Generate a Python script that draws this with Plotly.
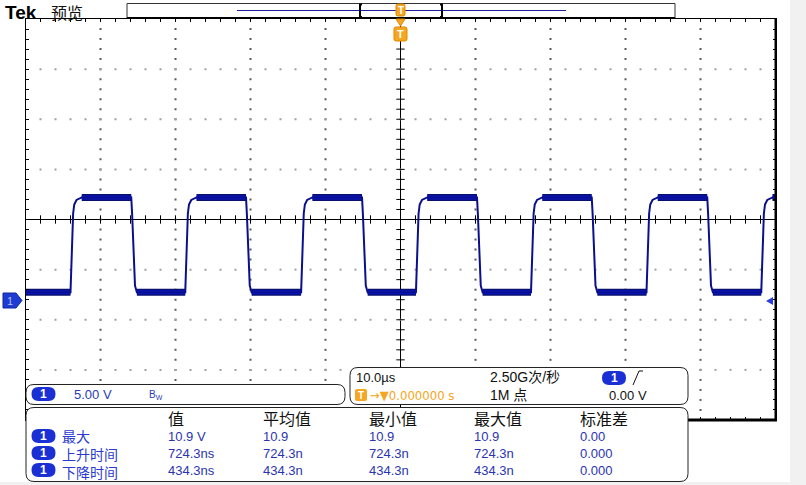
import plotly.graph_objects as go

# ---------------- data ----------------
# time in microseconds (10 us/div, centre = 0), voltage in volts (5 V/div, ground marker 1.6 div below centre)
RISE_US = [-44.0, -28.7, -13.25, 2.06, 17.4, 32.8, 48.1]
FALL_US = [-35.9, -20.6, -5.13, 10.2, 25.5, 40.9]
HIGH_V = 10.2
LOW_V = 0.75
# edge shapes (offset from edge start in us, level in V)
RISE_DT = [0.0, 0.35, 0.5, 0.8, 1.5]
RISE_V = [0.75, 8.6, 9.5, 9.95, 10.2]
FALL_DT = [0.0, 0.12, 0.5, 0.75]
FALL_V = [10.2, 8.5, 1.4, 0.75]

T_MIN, T_MAX = -50.0, 50.0
V_MIN, V_MAX = -12.0, 28.0
V_CENTER = 8.0

MEAS_HEADERS = ["值", "平均值", "最小值", "最大值", "标准差"]
MEAS_LABELS = ["最大", "上升时间", "下降时间"]
MEAS_VALUES = [
    ["10.9 V", "10.9", "10.9", "10.9", "0.00"],
    ["724.3ns", "724.3n", "724.3n", "724.3n", "0.000"],
    ["434.3ns", "434.3n", "434.3n", "434.3n", "0.000"],
]

# ---------------- build the waveform ----------------
events = sorted([(t, "r") for t in RISE_US] + [(t, "f") for t in FALL_US])
wx, wy = [T_MIN], [LOW_V]
flat_x, flat_y = [T_MIN], [LOW_V]
for t, kind in events:
    dts, vs = (RISE_DT, RISE_V) if kind == "r" else (FALL_DT, FALL_V)
    flat_x += [t, None]
    flat_y += [vs[0], None]
    for dt, v in zip(dts, vs):
        wx.append(t + dt)
        wy.append(v)
    flat_x.append(t + dts[-1])
    flat_y.append(vs[-1])
wx.append(T_MAX)
wy.append(wy[-1])
flat_x.append(T_MAX)
flat_y.append(flat_y[-1])

W, H = 806, 485


def px(x):
    return x / W


def py(y):
    return 1 - y / H


def rrect(x0, y0, x1, y1, r):
    P = lambda x, y: f"{px(x):.5f},{py(y):.5f}"
    return (f"M{P(x0 + r, y0)} L{P(x1 - r, y0)} Q{P(x1, y0)} {P(x1, y0 + r)} "
            f"L{P(x1, y1 - r)} Q{P(x1, y1)} {P(x1 - r, y1)} L{P(x0 + r, y1)} "
            f"Q{P(x0, y1)} {P(x0, y1 - r)} L{P(x0, y0 + r)} Q{P(x0, y0)} {P(x0 + r, y0)} Z")


fig = go.Figure()

# grid dots
gx, gy = [], []
for xm in [-40, -30, -20, -10, 10, 20, 30, 40]:
    for k in range(1, 40):
        gx.append(xm)
        gy.append(V_MIN + k)
fig.add_trace(go.Scatter(x=gx, y=gy, mode="markers", hoverinfo="skip",
                         marker=dict(symbol="square", size=2, color="#5a5a5a", line_width=0)))
hx, hy = [], []
for ym in [-7, -2, 3, 13, 18, 23]:
    for k in range(1, 50):
        hx.append(T_MIN + 2 * k)
        hy.append(ym)
fig.add_trace(go.Scatter(x=hx, y=hy, mode="markers", hoverinfo="skip",
                         marker=dict(symbol="square", size=2, color="#a0a0a0", line_width=0)))

# centre crosshair ticks
fig.add_trace(go.Scatter(x=[T_MIN + 2 * k for k in range(1, 50)], y=[V_CENTER] * 49, mode="markers",
                         hoverinfo="skip",
                         marker=dict(symbol="line-ns", size=6, line=dict(width=1, color="black"))))
fig.add_trace(go.Scatter(x=[0] * 39, y=[V_MIN + k for k in range(1, 40)], mode="markers",
                         hoverinfo="skip",
                         marker=dict(symbol="line-ew", size=6, line=dict(width=1, color="black"))))

# waveform: thick noisy band on the flat levels, thin line on the edges
fig.add_trace(go.Scatter(x=flat_x, y=flat_y, mode="lines", hoverinfo="skip",
                         line=dict(color="#08106e", width=7)))
fig.add_trace(go.Scatter(x=flat_x, y=flat_y, mode="lines", hoverinfo="skip",
                         line=dict(color="#0a14c8", width=4)))
fig.add_trace(go.Scatter(x=wx, y=wy, mode="lines", hoverinfo="skip",
                         line=dict(color="#0a0f8c", width=2)))

shapes = []
shapes.append(dict(type="line", xref="x", yref="y", x0=T_MIN, x1=T_MAX, y0=V_CENTER, y1=V_CENTER,
                   line=dict(color="black", width=1), layer="below"))
shapes.append(dict(type="line", xref="x", yref="y", x0=0, x1=0, y0=V_MIN, y1=V_MAX,
                   line=dict(color="black", width=1), layer="below"))
shapes.append(dict(type="line", xref="paper", yref="paper", x0=px(775.5), x1=px(775.5), y0=py(19), y1=py(421),
                   line=dict(color="black", width=2)))
shapes.append(dict(type="line", xref="paper", yref="paper", x0=px(680), x1=px(777), y0=py(420), y1=py(420),
                   line=dict(color="black", width=3)))
shapes.append(dict(type="rect", xref="paper", yref="paper", x0=px(790), x1=1, y0=0, y1=1,
                   fillcolor="#f1f1f1", line_width=0, layer="below"))
shapes.append(dict(type="rect", xref="paper", yref="paper", x0=0, x1=1, y0=0, y1=py(482),
                   fillcolor="#f1f1f1", line_width=0, layer="below"))

# record view box at top
shapes.append(dict(type="rect", xref="paper", yref="paper", x0=px(127), x1=px(675), y0=py(18), y1=py(3.5),
                   fillcolor="white", line=dict(color="#333", width=1)))
shapes.append(dict(type="line", xref="paper", yref="paper", x0=px(127), x1=px(675), y0=py(18), y1=py(18),
                   line=dict(color="black", width=2)))
shapes.append(dict(type="line", xref="paper", yref="paper", x0=px(237), x1=px(566), y0=py(10.5), y1=py(10.5),
                   line=dict(color="#1e1e9e", width=1)))
for bx, d in [(360, 1), (442, -1)]:
    shapes.append(dict(type="path", xref="paper", yref="paper",
                       path=f"M{px(bx + 2 * d)},{py(4.5)} L{px(bx)},{py(4.5)} L{px(bx)},{py(17)} L{px(bx + 2 * d)},{py(17)}",
                       line=dict(color="black", width=2)))
shapes.append(dict(type="path", xref="paper", yref="paper", path=rrect(396, 4, 405, 16, 2),
                   fillcolor="#f5a623", line=dict(color="#e08a00", width=1)))
shapes.append(dict(type="path", xref="paper", yref="paper",
                   path=f"M{px(396)},{py(19)} L{px(405)},{py(19)} L{px(400.5)},{py(26)} Z",
                   fillcolor="#f5a623", line=dict(color="#e08a00", width=1)))
shapes.append(dict(type="path", xref="paper", yref="paper", path=rrect(394, 27, 407, 41, 2),
                   fillcolor="#f5a623", line=dict(color="#e08a00", width=1)))
shapes.append(dict(type="path", xref="paper", yref="paper",
                   path=f"M{px(3)},{py(293)} L{px(16)},{py(293)} L{px(22)},{py(300.5)} L{px(16)},{py(308)} L{px(3)},{py(308)} Z",
                   fillcolor="#1e3cd2", line=dict(color="#1028a0", width=1)))
shapes.append(dict(type="path", xref="paper", yref="paper",
                   path=f"M{px(766)},{py(301)} L{px(773)},{py(297)} L{px(773)},{py(305)} Z",
                   fillcolor="#2a3ce0", line_width=0))

# bottom boxes
shapes.append(dict(type="path", xref="paper", yref="paper", path=rrect(26, 384.5, 345, 404.5, 8),
                   fillcolor="white", line=dict(color="#222", width=1)))
shapes.append(dict(type="path", xref="paper", yref="paper", path=rrect(350, 367.5, 688, 404.5, 8),
                   fillcolor="white", line=dict(color="#222", width=1)))
shapes.append(dict(type="path", xref="paper", yref="paper", path=rrect(26, 407.5, 688, 481.5, 8),
                   fillcolor="white", line=dict(color="#222", width=1)))

PILL = "#1a30d4"
for (cx, cy) in [(43.5, 394), (43.5, 436), (43.5, 453), (43.5, 470), (614, 378)]:
    shapes.append(dict(type="path", xref="paper", yref="paper", path=rrect(cx - 12, cy - 7, cx + 12, cy + 7, 7),
                       fillcolor=PILL, line_width=0))
shapes.append(dict(type="path", xref="paper", yref="paper", path=rrect(355, 389, 367, 401, 2),
                   fillcolor="#f5a623", line_width=0))
# rising-edge trigger slope symbol
shapes.append(dict(type="path", xref="paper", yref="paper",
                   path=f"M{px(633)},{py(385)} L{px(639)},{py(371)} L{px(643)},{py(371)}",
                   line=dict(color="#111", width=1)))

ann = []
FONT = "Liberation Sans, Noto Sans CJK SC"
CJK = "Noto Sans CJK SC, Liberation Sans"


def text(x, y, s, size=13, color="black", family=FONT, anchor="left", align="center"):
    ann.append(dict(x=px(x), y=py(y), xref="paper", yref="paper", text=s, showarrow=False, align=align,
                    xanchor=anchor, yanchor="middle", font=dict(size=size, color=color, family=family)))


text(3, 12, "<b>Tek</b>", 19, "black", "Liberation Sans")
text(49, 12, "预览", 16, "#111", CJK)
text(400.5, 10, "<b>T</b>", 10, "white", FONT, "center")
text(400.5, 34.5, "<b>T</b>", 11, "white", FONT, "center")
text(10, 301, "1", 11, "#b4bcff", FONT, "center")

BLUE_TXT = "#2a3cb4"
text(43.5, 394, "<b>1</b>", 12, "white", FONT, "center")
text(72, 394, "5.00 V", 13, BLUE_TXT)
text(147, 395, "B<sub>W</sub>", 10, BLUE_TXT)

text(354, 377, "10.0µs", 13, "#111")
text(488, 377, "2.50G次/秒", 14, "#111")
text(614, 378, "<b>1</b>", 12, "white", FONT, "center")
text(361, 395, "<b>T</b>", 10, "white", FONT, "center")
text(368, 395, "→▼0.000000 s", 13, "#f5a623", "DejaVu Sans Condensed, Liberation Sans")
text(488, 395, "1M 点", 14, "#111")
text(607, 395, "0.00 V", 13, "#111")

COLS = [166, 261, 367, 472, 578]
for cx, h in zip(COLS, MEAS_HEADERS):
    text(cx, 418, h, 16, "#111", CJK)
ROWS = [436, 453, 470]
VAL_BLUE = "#2b34b0"
# the three row labels as one stacked text block (line pitch matches the row pitch)
text(60, 453.5, "<br>".join(MEAS_LABELS), 14, "#2a3ad0", CJK, "left", "left")
for ry, vals in zip(ROWS, MEAS_VALUES):
    text(43.5, ry, "<b>1</b>", 12, "white", FONT, "center")
    for cx, v in zip(COLS, vals):
        text(cx, ry, v, 13, VAL_BLUE)

fig.update_layout(
    width=W, height=H, margin=dict(l=0, r=0, t=0, b=0),
    paper_bgcolor="white", plot_bgcolor="white", showlegend=False,
    xaxis=dict(domain=[px(25.5), px(775.5)], range=[T_MIN, T_MAX], showgrid=False, zeroline=False,
               showline=True, linecolor="black", linewidth=1, mirror="ticks", ticks="inside",
               tickmode="linear", tick0=T_MIN, dtick=2, ticklen=3, tickcolor="black",
               showticklabels=False, fixedrange=True),
    yaxis=dict(domain=[py(420), py(19)], range=[V_MIN, V_MAX], showgrid=False, zeroline=False,
               showline=True, linecolor="black", linewidth=1, mirror="ticks", ticks="inside",
               tickmode="linear", tick0=V_MIN, dtick=1, ticklen=3, tickcolor="black",
               showticklabels=False, fixedrange=True),
    shapes=shapes, annotations=ann,
)

fig.write_html("out.html", config={"displayModeBar": False},
               post_script="document.body.style.margin='0';document.body.style.overflow='hidden';")
